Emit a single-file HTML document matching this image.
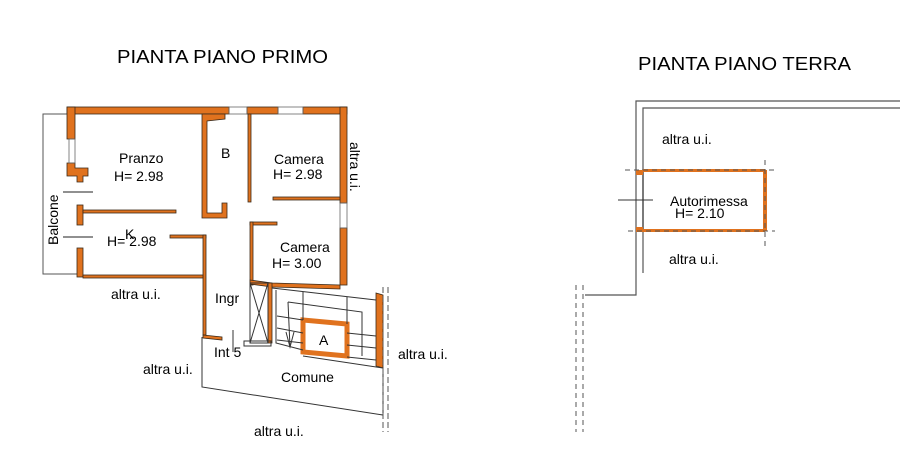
<!DOCTYPE html>
<html><head><meta charset="utf-8"><style>
html,body{margin:0;padding:0;background:#fff;}
svg{display:block;font-family:"Liberation Sans",Arial,sans-serif;}
</style></head><body>
<svg width="918" height="470" viewBox="0 0 918 470" xmlns="http://www.w3.org/2000/svg">
<g font-size="18" fill="#000">
<text x="117" y="63" textLength="211" lengthAdjust="spacingAndGlyphs">PIANTA PIANO PRIMO</text>
<text x="638" y="70" textLength="213" lengthAdjust="spacingAndGlyphs">PIANTA PIANO TERRA</text>
</g>
<!-- balcony outline -->
<polyline points="67,114 43,114 43,274 77,274" fill="none" stroke="#555" stroke-width="1"/>
<line x1="63" y1="192" x2="93" y2="192" stroke="#222"/>
<line x1="63" y1="237" x2="93" y2="237" stroke="#222"/>
<g fill="#E0721E" stroke="#3a2a1a" stroke-width="0.8">
<!-- top wall -->
<rect x="67" y="107" width="162" height="7"/>
<rect x="247" y="107" width="31" height="7"/>
<rect x="303" y="107" width="44" height="7"/>
<!-- left wall -->
<rect x="67" y="107" width="8" height="32"/>
<polygon points="67,163 75,163 75,168 88,168 88,176 83,176 83,182 77,182 77,176 67,176"/>
<rect x="77" y="205" width="6" height="20"/>
<rect x="77" y="248" width="6" height="29"/>
<!-- right wall -->
<rect x="340" y="107" width="7" height="96"/>
<rect x="340" y="228" width="7" height="57"/>
<!-- pranzo/K divider -->
<rect x="83" y="210" width="93" height="3"/>
<rect x="170" y="235" width="36" height="3"/>
<rect x="203" y="235" width="3" height="100"/>
<polygon points="203,335 222,337 222,340 203,338"/>
<!-- B -->
<polygon points="202,114 225,114 225,119 207,121 207,213 222,213 222,203 227,203 227,218 202,218"/>
<rect x="248" y="114" width="3" height="88"/>
<rect x="273" y="197" width="67" height="3"/>
<!-- camera2 -->
<rect x="250" y="222" width="27" height="3"/>
<rect x="250" y="222" width="3" height="63"/>
<polygon points="250,280 272,283 340,285 340,289 272,287 250,284"/>
<rect x="83" y="275" width="120" height="3"/>
<!-- stair -->
<rect x="268" y="283" width="4" height="60"/>
<polygon points="376,293 383,295 383,368 376,366"/>
<polygon points="303,320 347,324 347,356 303,352" fill="#fff" stroke="#E0721E" stroke-width="5"/>
</g>
<!-- windows -->
<g fill="none" stroke="#666" stroke-width="0.8">
<rect x="229" y="107" width="18" height="7"/>
<rect x="278" y="107" width="25" height="7"/>
<rect x="69" y="139" width="6" height="24"/>
<rect x="340" y="203" width="7" height="25"/>
</g>
<!-- lower stair area lines -->
<g fill="none" stroke="#333" stroke-width="1">
<rect x="250" y="283" width="18" height="60"/>
<line x1="250" y1="283" x2="268" y2="343"/><line x1="268" y1="283" x2="250" y2="343"/>
<rect x="244" y="341" width="27" height="5"/>
<polyline points="272,288 376,300"/>
<polyline points="276,290 276,343 303,350"/>
<polyline points="288,302 290,347"/>
<polyline points="288,302 362,312 362,356"/>
<line x1="277" y1="316" x2="303" y2="320"/><line x1="277" y1="328" x2="303" y2="333"/><line x1="277" y1="340" x2="303" y2="343"/>
<line x1="347" y1="333" x2="376" y2="336"/><line x1="347" y1="345" x2="376" y2="348"/><line x1="347" y1="357" x2="376" y2="360"/>
<line x1="303" y1="292" x2="303" y2="320"/><line x1="347" y1="297" x2="347" y2="324"/>
<polyline points="286,332 290,347 294,332"/>
<line x1="233" y1="330" x2="233" y2="352"/>
<polyline points="202,337 202,387 383,415 383,368 303,356"/>
</g>
<g stroke="#555" stroke-width="1" stroke-dasharray="6,3">
<line x1="383" y1="287" x2="383" y2="432"/><line x1="388" y1="287" x2="388" y2="432"/>
</g>
<g font-size="14" fill="#000">
<text x="119" y="163">Pranzo</text>
<text x="114" y="181">H= 2.98</text>
<text x="221" y="158">B</text>
<text x="274" y="164">Camera</text>
<text x="273" y="179">H= 2.98</text>
<text x="125" y="239">K</text>
<text x="107" y="246">H= 2.98</text>
<text x="280" y="252">Camera</text>
<text x="272" y="268">H= 3.00</text>
<text x="111" y="299">altra u.i.</text>
<text x="215" y="303">Ingr</text>
<text x="214" y="357">Int 5</text>
<text x="319" y="345">A</text>
<text x="281" y="382">Comune</text>
<text x="143" y="374">altra u.i.</text>
<text x="398" y="359">altra u.i.</text>
<text x="254" y="436">altra u.i.</text>
<text transform="translate(350,142) rotate(90)">altra u.i.</text>
<text transform="translate(58,245) rotate(-90)">Balcone</text>
</g>
<!-- terra -->
<g fill="none" stroke="#555" stroke-width="1.2">
<polyline points="900,101 636,101 636,295 585,295"/>
<polyline points="900,108 643,108 643,170"/>
<line x1="643" y1="231" x2="643" y2="273"/>
<rect x="643" y="170" width="122" height="61" stroke="#222"/>
</g>
<g fill="#E0721E">
<rect x="763" y="170" width="4" height="61"/>
<rect x="643" y="169" width="122" height="3"/>
<rect x="643" y="229" width="122" height="3"/>
<rect x="636" y="170" width="7" height="5"/>
<rect x="636" y="227" width="7" height="5"/>
</g>
<g stroke="#555" stroke-width="1" stroke-dasharray="5,4">
<line x1="625" y1="170" x2="775" y2="170"/>
<line x1="628" y1="231" x2="775" y2="231"/>
<line x1="765" y1="160" x2="765" y2="246"/>
<line x1="576" y1="285" x2="576" y2="432"/>
<line x1="583" y1="285" x2="583" y2="432"/>
</g>
<line x1="618" y1="200" x2="653" y2="200" stroke="#333"/>
<g font-size="14" fill="#000">
<text x="662" y="144">altra u.i.</text>
<text x="670" y="206">Autorimessa</text>
<text x="675" y="218">H= 2.10</text>
<text x="669" y="264">altra u.i.</text>
</g>
</svg>
</body></html>
